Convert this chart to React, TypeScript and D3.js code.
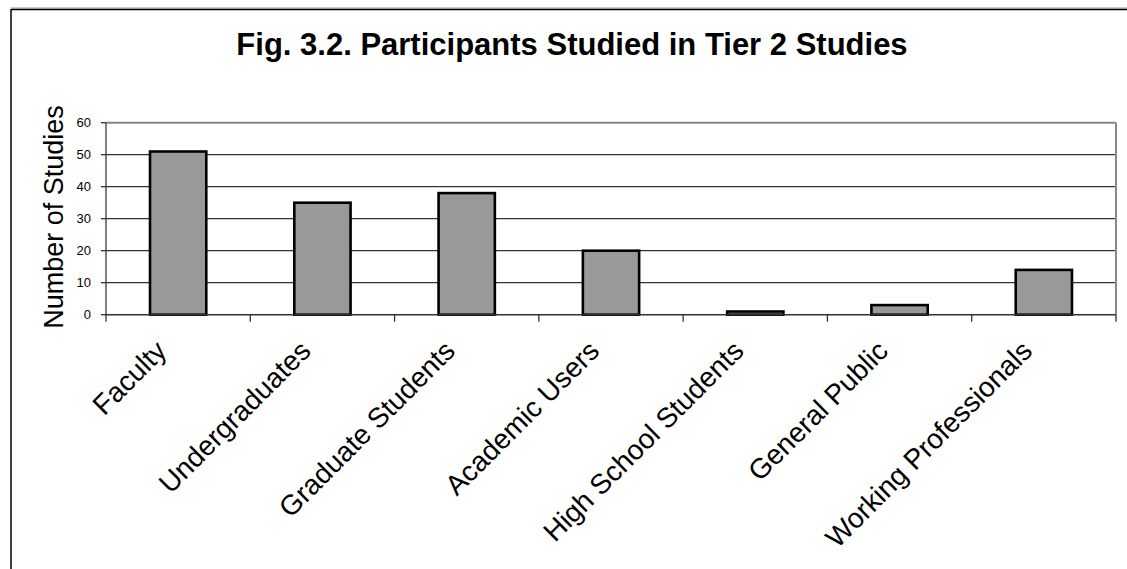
import React from "react";
import * as d3 from "d3";

const categories = [
  "Faculty",
  "Undergraduates",
  "Graduate Students",
  "Academic Users",
  "High School Students",
  "General Public",
  "Working Professionals",
];
const studies = [51, 35, 38, 20, 1, 3, 14];
const yTicks = [0, 10, 20, 30, 40, 50, 60];
const titleText = "Fig. 3.2. Participants Studied in Tier 2 Studies";
const yTitle = "Number of Studies";

export default function App() {
  const W = 1127;
  const H = 569;
  const left = 106;
  const right = 1116;
  const top = 122.7;
  const bottom = 314.7;
  const font = "'Liberation Sans', Arial, sans-serif";

  const x = d3
    .scaleBand<string>()
    .domain(categories)
    .range([left, right])
    .paddingInner(0.61)
    .paddingOuter(0.305);
  const edges = d3.scaleLinear().domain([0, categories.length]).range([left, right]);
  const y = d3.scaleLinear().domain([0, 60]).range([bottom, top]);

  return (
    <svg
      width={W}
      height={H}
      style={{ position: "absolute", left: 0, top: 0, background: "#fff" }}
    >
      <rect x={0} y={0} width={W} height={H} fill="#fff" />
      {/* outer chart frame */}
      <line x1={11} y1={8} x2={W} y2={8} stroke="#999" strokeWidth={1} />
      <line x1={11} y1={9.5} x2={W} y2={9.5} stroke="#000" strokeWidth={1.5} />
      <line x1={11} y1={9} x2={11} y2={H} stroke="#000" strokeWidth={1.5} />

      <text
        x={572}
        y={55}
        textAnchor="middle"
        fontFamily={font}
        fontWeight="bold"
        fontSize={31}
        fill="#000"
      >
        {titleText}
      </text>

      {/* plot area */}
      <rect x={left} y={top} width={right - left} height={bottom - top} fill="#fff" />
      {yTicks
        .filter((t) => t > 0 && t < 60)
        .map((t) => (
          <line
            key={"g" + t}
            x1={left}
            x2={right}
            y1={y(t)}
            y2={y(t)}
            stroke="#333"
            strokeWidth={1.3}
          />
        ))}
      {/* plot border top & right */}
      <line x1={left} x2={right} y1={top} y2={top} stroke="#888" strokeWidth={2} />
      <line x1={right} x2={right} y1={top} y2={bottom} stroke="#888" strokeWidth={2} />

      {/* bars */}
      {categories.map((c, i) => (
        <rect
          key={c}
          x={x(c)}
          y={y(studies[i])}
          width={x.bandwidth()}
          height={bottom - y(studies[i])}
          fill="#999999"
          stroke="#000"
          strokeWidth={2.6}
        />
      ))}

      {/* y axis */}
      <line x1={left} x2={left} y1={top} y2={bottom} stroke="#555" strokeWidth={1.5} />
      {yTicks.map((t) => (
        <g key={"t" + t}>
          <line x1={left - 5} x2={left} y1={y(t)} y2={y(t)} stroke="#333" strokeWidth={1.3} />
          <text
            x={91}
            y={y(t)}
            dy="0.35em"
            textAnchor="end"
            fontFamily={font}
            fontSize={13}
            fill="#000"
          >
            {t}
          </text>
        </g>
      ))}

      {/* x axis */}
      <line x1={left} x2={right} y1={bottom} y2={bottom} stroke="#333" strokeWidth={1.5} />
      {d3.range(categories.length + 1).map((i) => (
        <line
          key={"xt" + i}
          x1={edges(i)}
          x2={edges(i)}
          y1={bottom}
          y2={bottom + 7}
          stroke="#333"
          strokeWidth={1.3}
        />
      ))}
      {categories.map((c) => {
        const cx = (x(c) as number) + x.bandwidth() / 2;
        return (
          <text
            key={"l" + c}
            transform={`translate(${cx - 10},${bottom + 38}) rotate(-45)`}
            textAnchor="end"
            fontFamily={font}
            fontSize={28}
            fill="#000"
          >
            {c}
          </text>
        );
      })}

      <text
        transform={`translate(63,217) rotate(-90)`}
        textAnchor="middle"
        fontFamily={font}
        fontSize={27}
        fill="#000"
      >
        {yTitle}
      </text>
    </svg>
  );
}
